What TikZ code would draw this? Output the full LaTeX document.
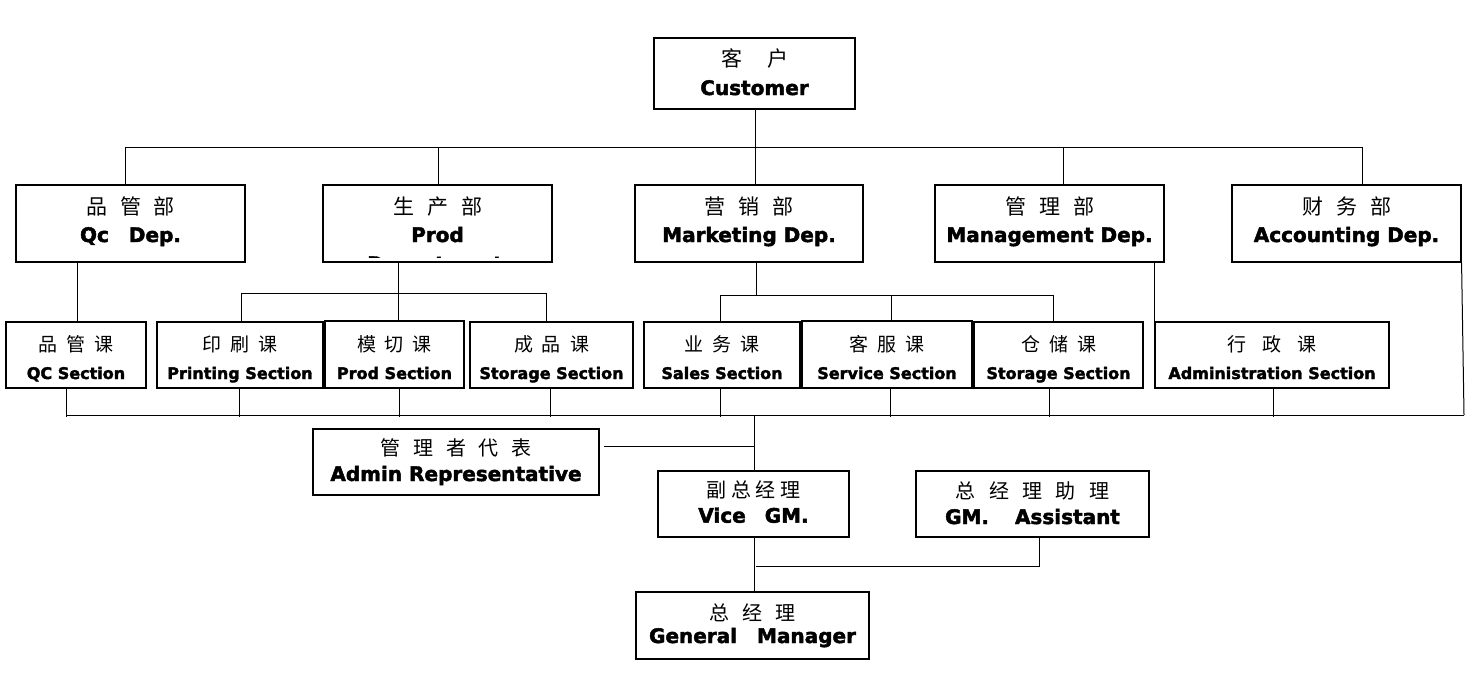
\documentclass[tikz,border=0pt]{standalone}
\usepackage{fontspec}
\setmainfont{DejaVu Sans}
\newfontfamily\heavyfont{DejaVu Sans}[UprightFont={* Bold}, UprightFeatures={FakeBold=2.2}]
\newfontfamily\zhfont{Noto Sans CJK SC}
\usetikzlibrary{calc}
\newcommand\zgap[1]{\hspace{#1pt}}
\tikzset{
  box/.style={draw, line width=1.1pt, inner sep=0pt},
  conn/.style={line width=1pt},
  zhA/.style={font=\zhfont\fontsize{21}{21}\selectfont, inner sep=0pt, anchor=center},
  zhB/.style={font=\zhfont\fontsize{19}{19}\selectfont, inner sep=0pt, anchor=center},
  zhC/.style={font=\zhfont\fontsize{20}{20}\selectfont, inner sep=0pt, anchor=center},
  enA/.style={font=\heavyfont\fontsize{20}{20}\selectfont, inner sep=0pt, anchor=base},
  enB/.style={font=\heavyfont\fontsize{16}{16}\selectfont, inner sep=0pt, anchor=base},
}
\begin{document}
\begin{tikzpicture}[x=1pt,y=-1pt]
\useasboundingbox (0,0) rectangle (1471,672);
\fill[white] (0,0) rectangle (1471,672);

% ---------- boxes ----------
\node[box, minimum width=201pt, minimum height=71pt] (cust) at (754.5,73.5) {};
\node[box, minimum width=229pt, minimum height=77pt] (qc)   at (130.5,223.5) {};
\node[box, minimum width=229pt, minimum height=77pt] (prod) at (437.5,223.5) {};
\node[box, minimum width=228pt, minimum height=77pt] (mkt)  at (749,223.5) {};
\node[box, minimum width=229pt, minimum height=77pt] (mgmt) at (1049.5,223.5) {};
\node[box, minimum width=229pt, minimum height=77pt] (acct) at (1346.5,223.5) {};

\node[box, minimum width=140pt, minimum height=66pt] (qcs)  at (76,355) {};
\node[box, minimum width=166pt, minimum height=66pt] (prt)  at (240,355) {};
\node[box, minimum width=139pt, minimum height=67pt] (pds)  at (394.5,354.5) {};
\node[box, minimum width=163pt, minimum height=66pt] (sto1) at (551.5,355) {};
\node[box, minimum width=156pt, minimum height=66pt] (sal)  at (722,355) {};
\node[box, minimum width=170pt, minimum height=67pt] (srv)  at (887,354.5) {};
\node[box, minimum width=169pt, minimum height=66pt] (sto2) at (1058.5,355) {};
\node[box, minimum width=234pt, minimum height=66pt] (adm)  at (1272,355) {};

\node[box, minimum width=286pt, minimum height=66pt] (arep) at (456,462) {};
\node[box, minimum width=191pt, minimum height=66pt] (vgm)  at (753.5,504) {};
\node[box, minimum width=233pt, minimum height=66pt] (gma)  at (1032.5,504) {};
\node[box, minimum width=233pt, minimum height=67pt] (gm)   at (752.5,625.5) {};

% ---------- texts ----------
\node[zhA] (cust-zh) at (754.5,58.5) {客\zgap{25}户};
\node[enA] (cust-en) at (754.5,95) {Customer};

\node[zhA] (qc-zh) at (130.5,206.5) {品\zgap{13}管\zgap{13}部};
\node[enA] (qc-en) at (130.5,242) {Qc\hspace{20pt}Dep.};
\node[zhA] (prod-zh) at (437.5,206.5) {生\zgap{13}产\zgap{13}部};
\node[enA] (prod-en) at (437.5,242) {Prod};
\begin{scope}
  \clip (prod.north west) rectangle ($(prod.south east)+(0,-5)$);
  \node[enA] (prod-en2) at (435,271) {Department};
\end{scope}
\node[zhA] (mkt-zh) at (749,206.5) {营\zgap{13}销\zgap{13}部};
\node[enA] (mkt-en) at (749,242) {Marketing Dep.};
\node[zhA] (mgmt-zh) at (1049.5,206.5) {管\zgap{13}理\zgap{13}部};
\node[enA] (mgmt-en) at (1049.5,242) {Management Dep.};
\node[zhA] (acct-zh) at (1346.5,206.5) {财\zgap{13}务\zgap{13}部};
\node[enA] (acct-en) at (1346.5,242) {Accounting Dep.};

\node[zhB] (qcs-zh) at (76,344) {品\zgap{9}管\zgap{9}课};
\node[enB] (qcs-en) at (76,379) {QC Section};
\node[zhB] (prt-zh) at (240,344) {印\zgap{9}刷\zgap{9}课};
\node[enB] (prt-en) at (240,379) {Printing Section};
\node[zhB] (pds-zh) at (394.5,344) {模\zgap{9}切\zgap{9}课};
\node[enB] (pds-en) at (394.5,379) {Prod Section};
\node[zhB] (sto1-zh) at (551.5,344) {成\zgap{9}品\zgap{9}课};
\node[enB] (sto1-en) at (551.5,379) {Storage Section};
\node[zhB] (sal-zh) at (722,344) {业\zgap{9}务\zgap{9}课};
\node[enB] (sal-en) at (722,379) {Sales Section};
\node[zhB] (srv-zh) at (887,344) {客\zgap{9}服\zgap{9}课};
\node[enB] (srv-en) at (887,379) {Service Section};
\node[zhB] (sto2-zh) at (1058.5,344) {仓\zgap{9}储\zgap{9}课};
\node[enB] (sto2-en) at (1058.5,379) {Storage Section};
\node[zhB] (adm-zh) at (1272,344) {行\zgap{16}政\zgap{16}课};
\node[enB] (adm-en) at (1272,379) {Administration Section};

\node[zhC] (arep-zh) at (456,447.5) {管\zgap{12.8}理\zgap{12.8}者\zgap{12.8}代\zgap{12.8}表};
\node[enA] (arep-en) at (456,481) {Admin Representative};
\node[zhC] (vgm-zh) at (753.5,490) {副\zgap{4.4}总\zgap{4.4}经\zgap{4.4}理};
\node[enA] (vgm-en) at (753.5,522.7) {Vice\hspace{19pt}GM.};
\node[zhC] (gma-zh) at (1032.5,491) {总\zgap{13.3}经\zgap{13.3}理\zgap{13.3}助\zgap{13.3}理};
\node[enA] (gma-en) at (1032.5,524) {GM.\hspace{26pt}Assistant};
\node[zhC] (gm-zh) at (752.5,612.5) {总\zgap{13}经\zgap{13}理};
\node[enA] (gm-en) at (752.5,643) {General\hspace{20pt}Manager};

% ---------- connectors: top ----------
\coordinate (tL) at (125,147);
\coordinate (tP) at (438,147);
\coordinate (tC) at (755,147);
\coordinate (tM) at (1063,147);
\coordinate (tR) at (1362,147);
\draw[conn] (tL) -- (tR);
\draw[conn] (tC |- cust.south) -- (tC |- mkt.north);
\draw[conn] (tL) -- (tL |- qc.north);
\draw[conn] (tP) -- (tP |- prod.north);
\draw[conn] (tM) -- (tM |- mgmt.north);
\draw[conn] (tR) -- (tR |- acct.north);

% Qc
\coordinate (qX) at (77,300);
\draw[conn] (qX |- qc.south) -- (qX |- qcs.north);

% Prod
\coordinate (pL) at (241,293);
\coordinate (pJ) at (398,293);
\coordinate (pR) at (546,293);
\draw[conn] (pJ |- prod.south) -- (pJ);
\draw[conn] (pL) -- (pR);
\draw[conn] (pL) -- (pL |- prt.north);
\draw[conn] (pJ) -- (pJ |- pds.north);
\draw[conn] (pR) -- (pR |- sto1.north);

% Marketing
\coordinate (mL) at (720,295);
\coordinate (mJ) at (756,295);
\coordinate (mC) at (891,295);
\coordinate (mR) at (1053,295);
\draw[conn] (mJ |- mkt.south) -- (mJ);
\draw[conn] (mL) -- (mR);
\draw[conn] (mL) -- (mL |- sal.north);
\draw[conn] (mC) -- (mC |- srv.north);
\draw[conn] (mR) -- (mR |- sto2.north);

% Management
\draw[conn] (adm.north west |- mgmt.south) -- (adm.north west);

% bottom bus
\coordinate (bL) at (66,415);
\coordinate (bR) at (1464,415);
\draw[conn] (acct.south east) -- (bR);
\draw[conn] (bL) -- (bR);
\foreach \n/\x in {qcs/66, prt/239, pds/399, sto1/550, sal/720, srv/890, sto2/1049, adm/1273} {
  \coordinate (k\n) at (\x,417);
  \draw[conn] (k\n |- \n.south) -- (k\n);
}

% lower part
\coordinate (vJ) at (754,415);
\coordinate (aJ) at (754,446);
\draw[conn] (vJ) -- (vJ |- vgm.north);
\draw[conn] ($(arep.east |- aJ)+(4,0)$) -- (aJ);
\draw[conn] (vJ |- vgm.south) -- (vJ |- gm.north);
\coordinate (gJ) at (1039,566);
\coordinate (gS) at (756,566);
\draw[conn] (gJ |- gma.south) -- (gJ) -- (gS);
\end{tikzpicture}
\end{document}
